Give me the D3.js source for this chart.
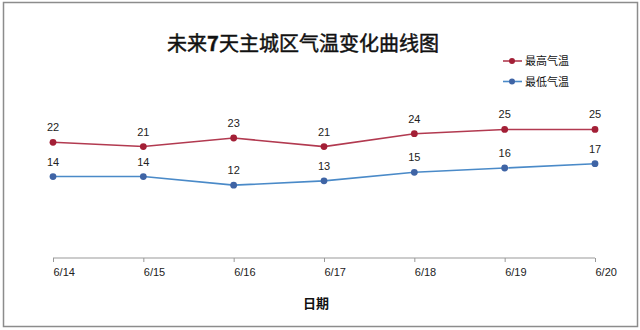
<!DOCTYPE html>
<html>
<head>
<meta charset="utf-8">
<script src="https://d3js.org/d3.v7.min.js"></script>
<style>
  body { margin: 0; background: #fff; }
  text { font-family: "Liberation Sans", Arial, sans-serif; }
  .cjk { font-family: "Noto Sans CJK SC", sans-serif; }
</style>
</head>
<body>
<svg id="chart" width="640" height="330"></svg>
<script>
// data
var dates = ['6/14', '6/15', '6/16', '6/17', '6/18', '6/19', '6/20'];
var highTemps = [22, 21, 23, 21, 24, 25, 25];
var lowTemps = [14, 14, 12, 13, 15, 16, 17];
var seriesNames = ['最高气温', '最低气温'];
var seriesColors = ['#a31f36', '#3f64a5'];
var lineColors = ['#b23a50', '#4a8ac8'];

var svg = d3.select('#chart');
var WIDTH = 640, HEIGHT = 330;

// outer frame
svg.append('rect')
    .attr('x', 3.5).attr('y', 2.5)
    .attr('width', 634).attr('height', 324)
    .attr('fill', '#fff')
    .attr('stroke', '#8c8c8c')
    .attr('stroke-width', 1.5);

var xRange = d3.scalePoint().domain(dates).range([53, 595]);
var yRange = d3.scaleLinear().domain([-5, 30]).range([258, 108]);

// x axis
var xAxis = d3.axisBottom(xRange).tickSize(4).tickSizeOuter(0);
var gx = svg.append('g')
    .attr('transform', 'translate(0,258)')
    .call(xAxis);
gx.select('.domain').attr('stroke', '#999').attr('d', 'M53,0H595');
gx.selectAll('.tick line').attr('stroke', '#999');
gx.selectAll('.tick text')
    .attr('text-anchor', 'start')
    .attr('x', 0)
    .attr('y', 10)
    .attr('font-size', 11)
    .attr('fill', '#222')
    .style('font-family', '"Liberation Sans", Arial, sans-serif');

// title and axis label
var title = svg.append('text')
    .attr('class', 'cjk')
    .attr('x', 303).attr('y', 51)
    .attr('text-anchor', 'middle')
    .attr('font-size', 20)
    .attr('fill', '#111')
    .attr('stroke', '#111')
    .attr('stroke-width', 0.45);
title.append('tspan').text('未来');
title.append('tspan').attr('font-weight', 'bold').text('7');
title.append('tspan').text('天主城区气温变化曲线图');

svg.append('text')
    .attr('class', 'cjk')
    .attr('x', 316).attr('y', 308)
    .attr('text-anchor', 'middle')
    .attr('font-size', 13)
    .attr('font-weight', 'bold')
    .attr('fill', '#111')
    .text('日期');

var allSeries = [highTemps, lowTemps];
var lineFunc = d3.line()
    .x(function(d, i) { return xRange(dates[i]); })
    .y(function(d) { return yRange(d); });

for (let h = 0; h < allSeries.length; h++) {
    svg.append('path')
        .attr('d', lineFunc(allSeries[h]))
        .attr('stroke', lineColors[h])
        .attr('stroke-width', 1.6)
        .attr('fill', 'none');

    svg.selectAll('.pt' + h)
        .data(allSeries[h])
        .enter().append('circle')
        .attr('cx', function(d, i) { return xRange(dates[i]); })
        .attr('cy', function(d) { return yRange(d); })
        .attr('r', 3.4)
        .attr('fill', seriesColors[h]);

    svg.selectAll('.lbl' + h)
        .data(allSeries[h])
        .enter().append('text')
        .attr('x', function(d, i) { return xRange(dates[i]); })
        .attr('y', function(d) { return yRange(d) - 11; })
        .attr('text-anchor', 'middle')
        .attr('font-size', 11)
        .attr('fill', '#222')
        .text(function(d) { return d; });

    // legend
    var ly = 61 + h * 20.5;
    svg.append('line')
        .attr('x1', 503).attr('x2', 522)
        .attr('y1', ly).attr('y2', ly)
        .attr('stroke', lineColors[h])
        .attr('stroke-width', 1.6);
    svg.append('circle')
        .attr('cx', 512).attr('cy', ly).attr('r', 3)
        .attr('fill', seriesColors[h]);
    svg.append('text')
        .attr('class', 'cjk')
        .attr('x', 525).attr('y', ly + 4)
        .attr('font-size', 11)
        .attr('fill', '#111')
        .text(seriesNames[h]);
}
</script>
</body>
</html>
